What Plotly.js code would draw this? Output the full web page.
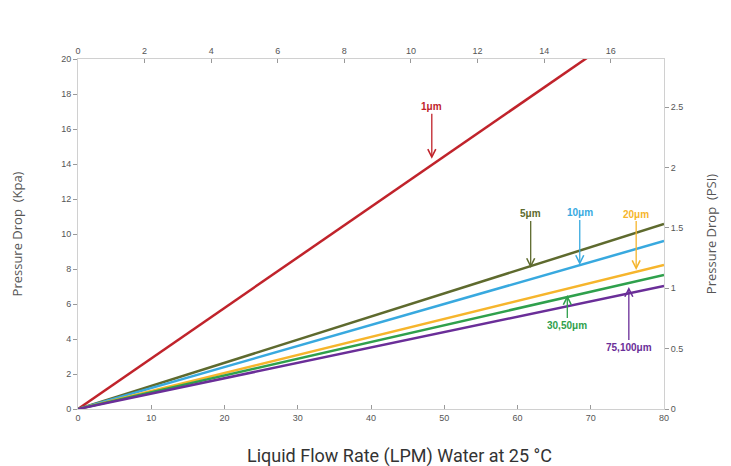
<!DOCTYPE html>
<html><head><meta charset="utf-8">
<script src="https://cdn.plot.ly/plotly-3.0.1.min.js"></script>
<style>html,body{margin:0;padding:0;background:#fff}#chart{width:731px;height:466px}</style>
</head><body><div id="chart"></div>
<script>
const flowLPM = [0, 80];
const series = ["1μm", "5μm", "10μm", "20μm", "30,50μm", "75,100μm"];
const dropKpa = {
  "1μm": [0, 23.1],
  "5μm": [0, 10.57],
  "10μm": [0, 9.6],
  "20μm": [0, 8.23],
  "30,50μm": [0, 7.66],
  "75,100μm": [0, 7.03]
};
const colors = ["#c0232b", "#5e6a2e", "#38a9df", "#f6b52c", "#2fa04c", "#6a2e98"];
const xTitle = "Liquid Flow Rate (LPM) Water at 25 °C";
// label positions: [x LPM, arrow head kPa, label y offset px]
const labelX = [48.3, 61.8, 68.5, 76.2, 66.8, 75.2];
const labelHead = [14.3, 8.06, 8.23, 7.94, 6.51, 6.97];
const labelAy = [-52, -54, -52, -56, 30, 60];

const tickFont = {family: "Liberation Sans, Arial", size: 9, color: "#555"};
const traces = series.map((s, i) => ({
  x: flowLPM, y: dropKpa[s], type: "scatter", mode: "lines",
  line: {color: colors[i], width: 2.5}, name: s, hoverinfo: "skip"
}));
traces.push({x: [0, 17.6], y: [0, 2.9], xaxis: "x2", yaxis: "y2", mode: "lines",
  line: {color: "rgba(0,0,0,0)"}, showlegend: false, hoverinfo: "skip"});

const annotations = series.map((s, i) => ({
  x: labelX[i], y: labelHead[i], xref: "x", yref: "y",
  text: "<b>" + s + "</b>", showarrow: true, arrowhead: 5, arrowsize: 1.2, arrowwidth: 1.3,
  arrowcolor: colors[i], ax: 0, ay: labelAy[i],
  font: {family: "Liberation Sans, Arial", size: 10, color: colors[i]}
}));
annotations.push({
  text: xTitle, xref: "paper", yref: "paper", x: 0.549, y: -0.134,
  xanchor: "center", yanchor: "middle", showarrow: false,
  font: {family: "Roboto, Arial", size: 18, color: "#333"}
});

const layout = {
  width: 731, height: 466,
  margin: {l: 78, r: 67, t: 59, b: 57},
  paper_bgcolor: "#fff", plot_bgcolor: "#fff",
  showlegend: false,
  xaxis: {range: [0, 80], tickvals: [0,10,20,30,40,50,60,70,80], showgrid: false, zeroline: false,
    showline: true, linecolor: "#d0d0d0", ticks: "inside", ticklen: 4, tickcolor: "#999",
    tickfont: tickFont},
  xaxis2: {range: [0, 17.6], overlaying: "x", side: "top", tickvals: [0,2,4,6,8,10,12,14,16],
    showgrid: false, zeroline: false, showline: true, linecolor: "#d0d0d0", ticks: "inside",
    ticklen: 4, tickcolor: "#999", tickfont: tickFont},
  yaxis: {range: [0, 20], tickvals: [0,2,4,6,8,10,12,14,16,18,20], showgrid: false, zeroline: false,
    showline: true, linecolor: "#d0d0d0", ticks: "outside", ticklen: 4, tickcolor: "#999",
    tickfont: tickFont, title: {text: "Pressure Drop  (Kpa)",
    font: {family: "Open Sans, Arial", size: 13, color: "#555"}, standoff: 35}},
  yaxis2: {range: [0, 2.9], overlaying: "y", side: "right", tickvals: [0,0.5,1,1.5,2,2.5],
    ticktext: ["0","0.5","1","1.5","2","2.5"], showgrid: false, zeroline: false,
    showline: true, linecolor: "#d0d0d0", ticks: "outside", ticklen: 4, tickcolor: "#999",
    tickfont: tickFont, title: {text: "Pressure Drop  (PSI)",
    font: {family: "Open Sans, Arial", size: 13, color: "#555"}, standoff: 24}},
  annotations: annotations
};
Plotly.newPlot("chart", traces, layout, {staticPlot: true});
</script></body></html>
